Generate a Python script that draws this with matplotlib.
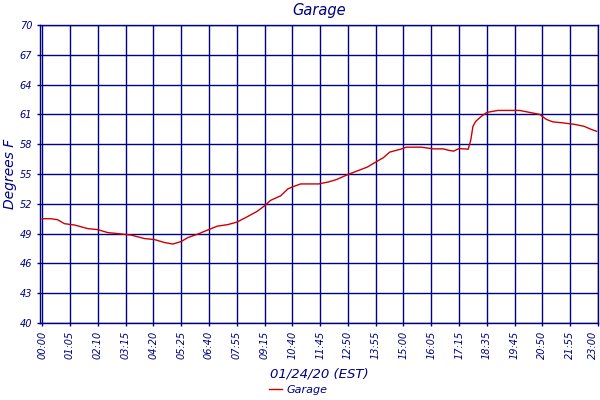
import matplotlib
matplotlib.use("Agg")
import matplotlib.pyplot as plt

# tick labels along the x axis (evenly spaced sample positions)
time_labels = ["00:00", "01:05", "02:10", "03:15", "04:20", "05:25", "06:40",
               "07:55", "09:15", "10:40", "11:45", "12:50", "13:55", "15:00",
               "16:05", "17:15", "18:35", "19:45", "20:50", "21:55", "23:00"]
y_ticks = [40, 43, 46, 49, 52, 55, 58, 61, 64, 67, 70]

# readings, position measured in tick intervals
pos = [0.0, 0.3, 0.55, 0.8, 1.17, 1.64, 2.0, 2.36, 2.72, 3.2, 3.68, 4.04,
       4.4, 4.7, 5.0, 5.24, 5.6, 5.9, 6.3, 6.67, 7.0, 7.38, 7.74, 8.0, 8.22,
       8.58, 8.84, 9.05, 9.3, 9.95, 10.3, 10.6, 11.0, 11.33, 11.7, 12.0,
       12.28, 12.5, 12.9, 13.1, 13.65, 14.07, 14.43, 14.6, 14.8, 15.0, 15.33,
       15.42, 15.5, 15.6, 15.8, 16.0, 16.4, 16.8, 17.18, 17.54, 17.9, 18.14,
       18.37, 18.73, 19.15, 19.5, 19.75, 19.95]
temps = [50.5, 50.5, 50.4, 50.0, 49.86, 49.5, 49.4, 49.1, 49.0, 48.85, 48.5,
         48.4, 48.1, 47.95, 48.2, 48.6, 48.95, 49.3, 49.75, 49.9, 50.15, 50.7,
         51.25, 51.8, 52.35, 52.8, 53.5, 53.75, 54.0, 54.0, 54.2, 54.45, 54.95,
         55.3, 55.7, 56.2, 56.65, 57.2, 57.5, 57.7, 57.7, 57.53, 57.53, 57.4,
         57.3, 57.56, 57.5, 58.4, 59.8, 60.3, 60.8, 61.2, 61.4, 61.4, 61.4,
         61.2, 61.0, 60.5, 60.25, 60.15, 60.0, 59.8, 59.5, 59.3]

NAVY = "#000080"
RED = "#cc0000"

fig = plt.figure(figsize=(6, 4), dpi=100)
ax = fig.add_axes([40 / 600, 1 - 323 / 400, 558 / 600, 298 / 400])

ax.plot(pos, temps, color=RED, linewidth=1.0, label="Garage")

ax.set_xlim(-0.08, 20)
ax.set_ylim(40, 70)
ax.set_xticks(range(len(time_labels)))
ax.set_xticklabels(time_labels, rotation=90, fontsize=7, style="italic", color=NAVY)
# keep the last label inside the figure
ax.get_xticklabels()[-1].set_horizontalalignment("right")
ax.set_yticks(y_ticks)
ax.set_yticklabels([str(v) for v in y_ticks], fontsize=7, style="italic", color=NAVY)
ax.tick_params(axis="both", colors=NAVY, length=2, width=1)
ax.grid(True, color=NAVY, linewidth=1)
ax.set_axisbelow(True)
for sp in ax.spines.values():
    sp.set_color(NAVY)
    sp.set_linewidth(1)

ax.set_title("Garage", fontsize=10.5, style="italic", color=NAVY, pad=7)
ax.set_ylabel("Degrees F", fontsize=10, style="italic", color=NAVY, labelpad=2)
ax.set_xlabel("01/24/20 (EST)", fontsize=9.5, style="italic", color=NAVY, labelpad=6)

fig.legend(loc="center", bbox_to_anchor=(298 / 600, 10 / 400), frameon=False,
           prop={"style": "italic", "size": 8}, labelcolor=NAVY,
           handlelength=1.2, handletextpad=0.4)

fig.savefig("out.png", dpi=100)
